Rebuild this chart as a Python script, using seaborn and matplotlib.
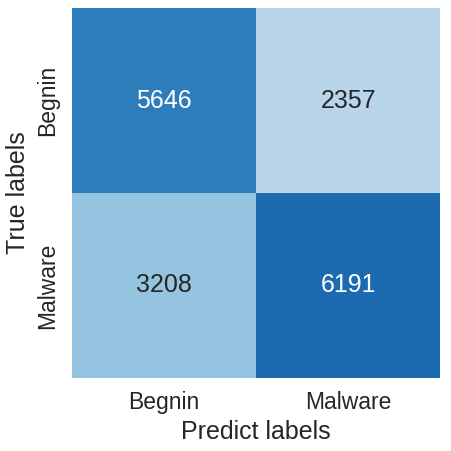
import numpy as np
import matplotlib
matplotlib.use("Agg")
import matplotlib.pyplot as plt
import seaborn as sns

# Matriz de confusao (linhas = real, colunas = predito)
class_names = ["Begnin", "Malware"]
row_begnin = [5646, 2357]
row_malware = [3208, 6191]

cm = np.array([row_begnin, row_malware])

sns.set_theme(style="darkgrid", font_scale=1.5)
plt.rcParams["font.family"] = ["Liberation Sans", "DejaVu Sans"]

fig, ax = plt.subplots(figsize=(4.51, 4.51), dpi=100)
sns.heatmap(
    cm, annot=True, fmt="d", cmap="Blues", cbar=False,
    vmin=0, vmax=8000,
    xticklabels=class_names, yticklabels=class_names,
    ax=ax,
)
ax.set_xlabel("Predict labels")
ax.set_ylabel("True labels")
fig.subplots_adjust(left=0.16, right=0.976, top=0.982, bottom=0.162)
fig.savefig("out.png", dpi=100)
